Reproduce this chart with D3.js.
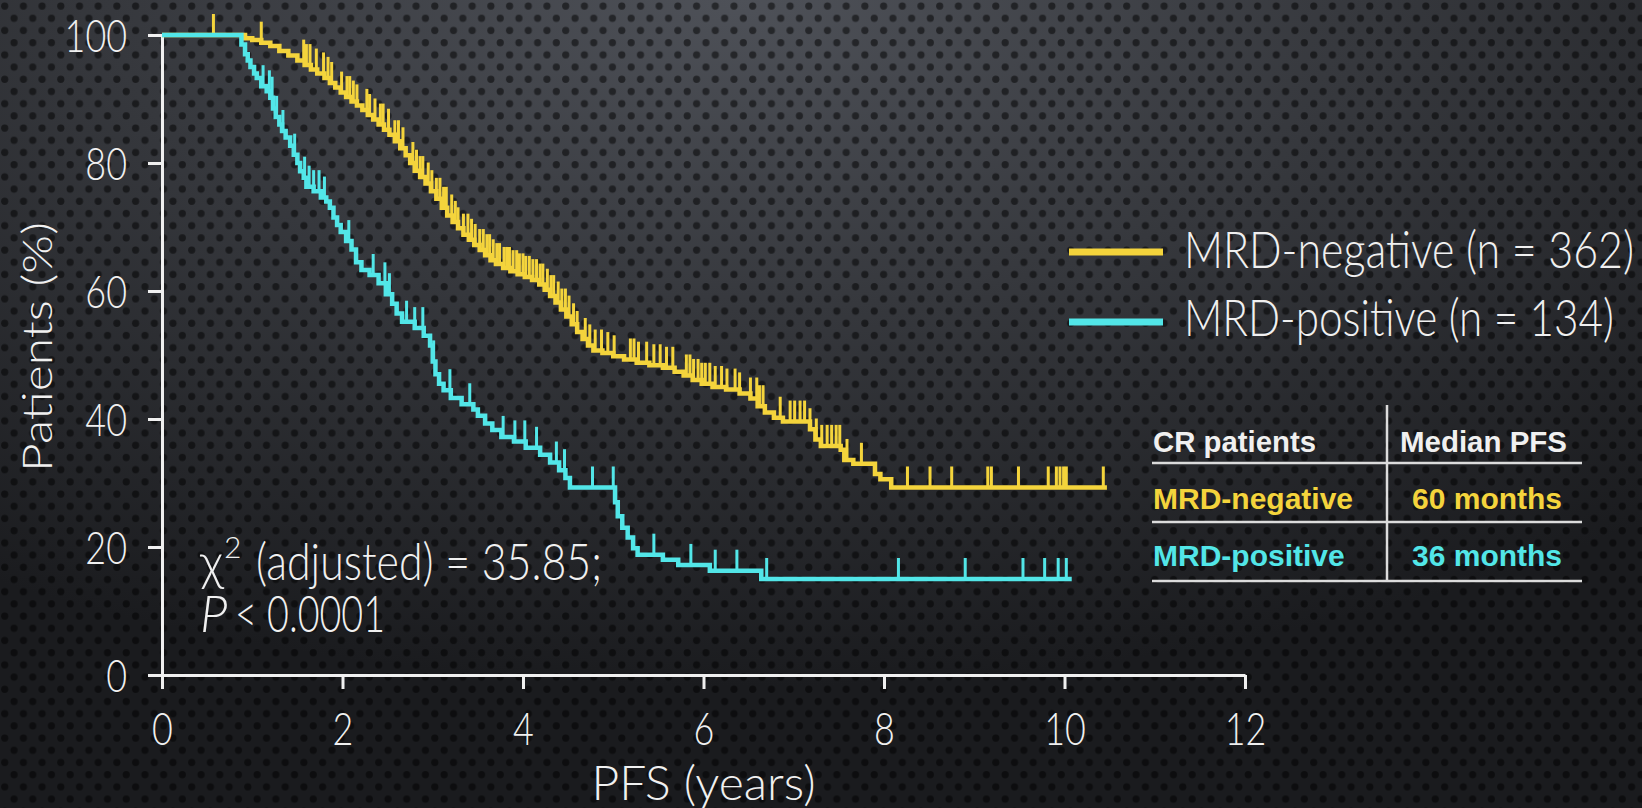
<!DOCTYPE html>
<html>
<head>
<meta charset="utf-8">
<script src="https://cdn.jsdelivr.net/npm/d3@7"></script>
<style>
  body { margin: 0; background: #1d1e21; }
  svg { display: block; }
</style>
</head>
<body>
<div id="chart"></div>
<script>
// axis ticks
var yearTicks = [0, 2, 4, 6, 8, 10, 12];
var pctTicks = [0, 20, 40, 60, 80, 100];

// MRD-negative: [time (years), survival % after the drop]
var negSteps = [
  [0.92, 99.5], [1.00, 99.2], [1.10, 98.8], [1.20, 98.3], [1.30, 97.5], [1.40, 96.8],
  [1.50, 96.0], [1.58, 95.3], [1.65, 94.6], [1.72, 94.0], [1.80, 93.3], [1.86, 92.5],
  [1.92, 91.8], [1.98, 91.0], [2.04, 90.3], [2.10, 89.6], [2.16, 89.0], [2.22, 88.3],
  [2.28, 87.5], [2.34, 86.8], [2.40, 86.0], [2.46, 85.2], [2.52, 84.4], [2.58, 83.4],
  [2.64, 82.3], [2.70, 81.2], [2.75, 80.0], [2.80, 78.8], [2.86, 77.8], [2.92, 76.8],
  [2.98, 75.6], [3.04, 74.4], [3.10, 73.0], [3.16, 71.8], [3.22, 70.8], [3.28, 69.8],
  [3.34, 68.8], [3.40, 68.0], [3.46, 67.2], [3.52, 66.4], [3.58, 65.6], [3.64, 64.8],
  [3.70, 64.2], [3.78, 63.6], [3.86, 63.1], [3.94, 62.6], [4.02, 62.2], [4.10, 61.7],
  [4.18, 61.0], [4.24, 60.2], [4.30, 59.2], [4.36, 58.2], [4.42, 57.1], [4.48, 56.0],
  [4.54, 54.8], [4.60, 53.6], [4.66, 52.5], [4.72, 51.5], [4.78, 50.7], [4.88, 50.3],
  [5.00, 49.8], [5.12, 49.3], [5.26, 48.8], [5.40, 48.4], [5.55, 48.0], [5.68, 47.4],
  [5.78, 46.8], [5.88, 46.1], [5.98, 45.5], [6.10, 45.0], [6.25, 44.6], [6.40, 44.0],
  [6.52, 43.2], [6.60, 42.0], [6.68, 41.0], [6.78, 40.2], [6.88, 39.6], [7.18, 38.4],
  [7.24, 36.8], [7.30, 35.8], [7.52, 35.2], [7.56, 33.6], [7.66, 33.0], [7.90, 31.4],
  [7.96, 30.6], [8.08, 29.3]
];
var negEnd = 10.47;
var negCensor = [
  0.57, 1.10, 1.57, 1.60, 1.64, 1.71, 1.79, 1.84, 1.88, 1.99, 2.05, 2.08, 2.12, 2.16,
  2.27, 2.30, 2.36, 2.42, 2.45, 2.51, 2.58, 2.62, 2.67, 2.78, 2.82, 2.86, 2.89, 2.95,
  2.99, 3.04, 3.08, 3.12, 3.15, 3.21, 3.25, 3.28, 3.34, 3.39, 3.43, 3.47, 3.52, 3.56,
  3.60, 3.63, 3.67, 3.71, 3.74, 3.79, 3.82, 3.85, 3.89, 3.93, 3.96, 4.00, 4.03, 4.07,
  4.11, 4.15, 4.19, 4.22, 4.27, 4.31, 4.34, 4.39, 4.43, 4.47, 4.51, 4.56, 4.60, 4.69,
  4.74, 4.80, 4.87, 4.94, 5.01, 5.19, 5.23, 5.28, 5.37, 5.45, 5.52, 5.59, 5.66, 5.81,
  5.85, 5.89, 5.94, 5.98, 6.02, 6.07, 6.13, 6.20, 6.26, 6.35, 6.40, 6.52, 6.59, 6.62,
  6.66, 6.85, 6.96, 7.01, 7.07, 7.12, 7.18, 7.25, 7.31, 7.37, 7.42, 7.47, 7.51, 7.59,
  7.75, 8.26, 8.51, 8.75, 9.15, 9.19, 9.49, 9.82, 9.91, 9.95, 9.99, 10.02, 10.43
];

// MRD-positive
var posSteps = [
  [0.88, 98.5], [0.92, 97.0], [0.95, 96.0], [0.98, 95.0], [1.02, 94.0], [1.05, 93.3],
  [1.10, 92.0], [1.16, 91.2], [1.20, 90.2], [1.23, 88.5], [1.26, 87.2], [1.30, 86.0],
  [1.33, 85.0], [1.37, 84.0], [1.42, 82.7], [1.46, 81.3], [1.50, 80.0], [1.53, 78.7],
  [1.57, 77.7], [1.60, 76.3], [1.68, 75.6], [1.76, 74.6], [1.82, 74.0], [1.86, 73.0],
  [1.90, 71.5], [1.94, 70.3], [1.98, 69.2], [2.04, 67.8], [2.10, 66.5], [2.15, 64.5],
  [2.21, 63.3], [2.30, 62.5], [2.40, 61.2], [2.48, 59.5], [2.55, 58.0], [2.60, 56.5],
  [2.66, 55.2], [2.80, 54.2], [2.90, 53.0], [2.97, 51.5], [3.00, 49.0], [3.03, 47.0],
  [3.07, 45.5], [3.12, 44.5], [3.20, 43.3], [3.32, 42.3], [3.45, 41.5], [3.50, 40.5],
  [3.58, 39.3], [3.66, 38.3], [3.76, 37.2], [3.90, 36.5], [4.03, 35.5], [4.19, 34.4],
  [4.30, 33.2], [4.40, 32.0], [4.47, 30.8], [4.52, 29.3], [5.02, 27.0], [5.05, 24.8],
  [5.10, 23.0], [5.16, 21.5], [5.22, 19.8], [5.27, 18.8], [5.55, 18.0], [5.72, 17.2],
  [6.07, 16.3], [6.64, 15.0]
];
var posEnd = 10.08;
var posCensor = [
  1.12, 1.19, 1.22, 1.27, 1.34, 1.47, 1.58, 1.63, 1.68, 1.74, 1.80, 2.07, 2.34, 2.47,
  2.52, 2.71, 2.80, 2.89, 3.01, 3.19, 3.41, 3.78, 3.91, 4.02, 4.15, 4.37, 4.46, 4.77,
  5.00, 5.45, 5.86, 6.13, 6.37, 6.70, 8.16, 8.90, 9.54, 9.78, 9.93, 10.02
];

var legendLabels = ["MRD-negative (n = 362)", "MRD-positive (n = 134)"];
var tableHead = ["CR patients", "Median PFS"];
var tableRows = [["MRD-negative", "60 months"], ["MRD-positive", "36 months"]];

var YELLOW = "#f4d43c", CYAN = "#52e6e8", WHITE = "#f0f0f0";
var thin = "Lato, 'Open Sans', sans-serif";
var arial = "'Liberation Sans', Arial, sans-serif";

var W = 1642, H = 808;
var svg = d3.select("#chart").append("svg").attr("width", W).attr("height", H);

// background: vignette + perforated dots
var defs = svg.append("defs");
var grad = defs.append("radialGradient").attr("id", "bg")
  .attr("cx", 0.45).attr("cy", 0.0).attr("r", 0.85);
grad.append("stop").attr("offset", 0).attr("stop-color", "#4e5158");
grad.append("stop").attr("offset", 0.45).attr("stop-color", "#36383d");
grad.append("stop").attr("offset", 1).attr("stop-color", "#1a1b1e");
var pat = defs.append("pattern").attr("id", "dots")
  .attr("patternUnits", "userSpaceOnUse").attr("width", 18.7).attr("height", 24.4);
pat.append("circle").attr("cx", 4.7).attr("cy", 6.1).attr("r", 3.6).attr("fill", "#000").attr("opacity", 0.5);
pat.append("circle").attr("cx", 14.05).attr("cy", 18.3).attr("r", 3.6).attr("fill", "#000").attr("opacity", 0.5);
svg.append("rect").attr("width", W).attr("height", H).attr("fill", "url(#bg)");
svg.append("rect").attr("width", W).attr("height", H).attr("fill", "url(#dots)");

var x = d3.scaleLinear().domain([0, 12]).range([162, 1245]);
var y = d3.scaleLinear().domain([0, 100]).range([675, 35]);

function squeeze(sel, f) {
  sel.each(function() {
    var w = this.getComputedTextLength();
    d3.select(this).attr("textLength", w * f).attr("lengthAdjust", "spacingAndGlyphs");
  });
}

// axes
var gx = svg.append("g").attr("transform", "translate(0," + y(0) + ")")
  .call(d3.axisBottom(x).tickValues(yearTicks).tickSize(14).tickSizeOuter(0));
var gy = svg.append("g").attr("transform", "translate(" + x(0) + ",0)")
  .call(d3.axisLeft(y).tickValues(pctTicks).tickSize(14).tickSizeOuter(0));
[gx, gy].forEach(function(g) {
  g.select(".domain").attr("stroke", WHITE).attr("stroke-width", 3);
  g.selectAll(".tick line").attr("stroke", WHITE).attr("stroke-width", 3);
  g.selectAll("text").attr("fill", WHITE).attr("font-family", thin)
    .attr("font-weight", 300).attr("font-size", 46);
});
gx.selectAll("text").attr("y", 70).attr("dy", null);
gy.selectAll("text").attr("x", -35).attr("dy", "0.36em");
squeeze(gx.selectAll("text"), 0.78);
squeeze(gy.selectAll("text"), 0.78);

function text(str, px, py, size, w, opts) {
  opts = opts || {};
  var t = svg.append("text").attr("x", px).attr("y", py)
    .attr("font-family", opts.family || thin)
    .attr("font-weight", opts.weight || 300)
    .attr("font-size", size)
    .attr("fill", opts.fill || WHITE)
    .attr("font-style", opts.style || null)
    .text(str);
  if (w) t.attr("textLength", w).attr("lengthAdjust", "spacingAndGlyphs");
  return t;
}

// axis titles
svg.append("text")
  .attr("transform", "translate(52,347) rotate(-90)")
  .attr("text-anchor", "middle")
  .attr("font-family", thin).attr("font-weight", 300).attr("font-size", 42)
  .attr("fill", WHITE)
  .attr("textLength", 250).attr("lengthAdjust", "spacingAndGlyphs")
  .text("Patients (%)");
text("PFS (years)", 0, 800, 48).attr("x", x(6)).attr("text-anchor", "middle");

// curves
function survAt(steps, t) {
  var s = 100;
  steps.forEach(function(d) { if (d[0] <= t) s = d[1]; });
  return s;
}
var line = d3.line().x(function(d) { return x(d[0]); }).y(function(d) { return y(d[1]); })
  .curve(d3.curveStepAfter);

function drawCurve(steps, end, censor, color) {
  var pts = [[0, 100]].concat(steps);
  pts.push([end, steps[steps.length - 1][1]]);
  var g = svg.append("g");
  g.selectAll("line").data(censor).enter().append("line")
    .attr("x1", function(d) { return x(d); })
    .attr("x2", function(d) { return x(d); })
    .attr("y1", function(d) { return y(survAt(steps, d)); })
    .attr("y2", function(d) { return y(survAt(steps, d)) - 21; })
    .attr("stroke", color).attr("stroke-width", 3);
  g.append("path").datum(pts).attr("d", line)
    .attr("fill", "none").attr("stroke", color).attr("stroke-width", 4.5);
}
drawCurve(negSteps, negEnd, negCensor, YELLOW);
drawCurve(posSteps, posEnd, posCensor, CYAN);

// statistics
text("\u03c7", 200, 580, 51);
text("2", 224, 558, 30);
text("(adjusted) = 35.85;", 256, 580, 51, 346);
text("P", 200, 632, 51, null, { style: "italic" });
text("< 0.0001", 235, 632, 51, 150);

// legend
[YELLOW, CYAN].forEach(function(c, i) {
  var ly = [252, 322][i];
  svg.append("line").attr("x1", 1069).attr("x2", 1163).attr("y1", ly).attr("y2", ly)
    .attr("stroke", c).attr("stroke-width", 7);
  text(legendLabels[i], 1184, [268, 336][i], 51, [450, 430][i]);
});

// table
var tl = svg.append("g").attr("stroke", "#dcdcdc").attr("stroke-width", 2.5);
tl.append("line").attr("x1", 1387).attr("x2", 1387).attr("y1", 405).attr("y2", 582);
[463, 522, 581].forEach(function(v) {
  tl.append("line").attr("x1", 1152).attr("x2", 1582).attr("y1", v).attr("y2", v);
});
var tOpts = { family: arial, weight: 700 };
text(tableHead[0], 1153, 452, 30, 163, tOpts);
text(tableHead[1], 1400, 452, 30, 167, tOpts);
[YELLOW, CYAN].forEach(function(c, i) {
  var o = { family: arial, weight: 700, fill: c };
  text(tableRows[i][0], 1153, [509, 566][i], 30, null, o);
  text(tableRows[i][1], 1412, [509, 566][i], 30, null, o);
});
</script>
</body>
</html>
